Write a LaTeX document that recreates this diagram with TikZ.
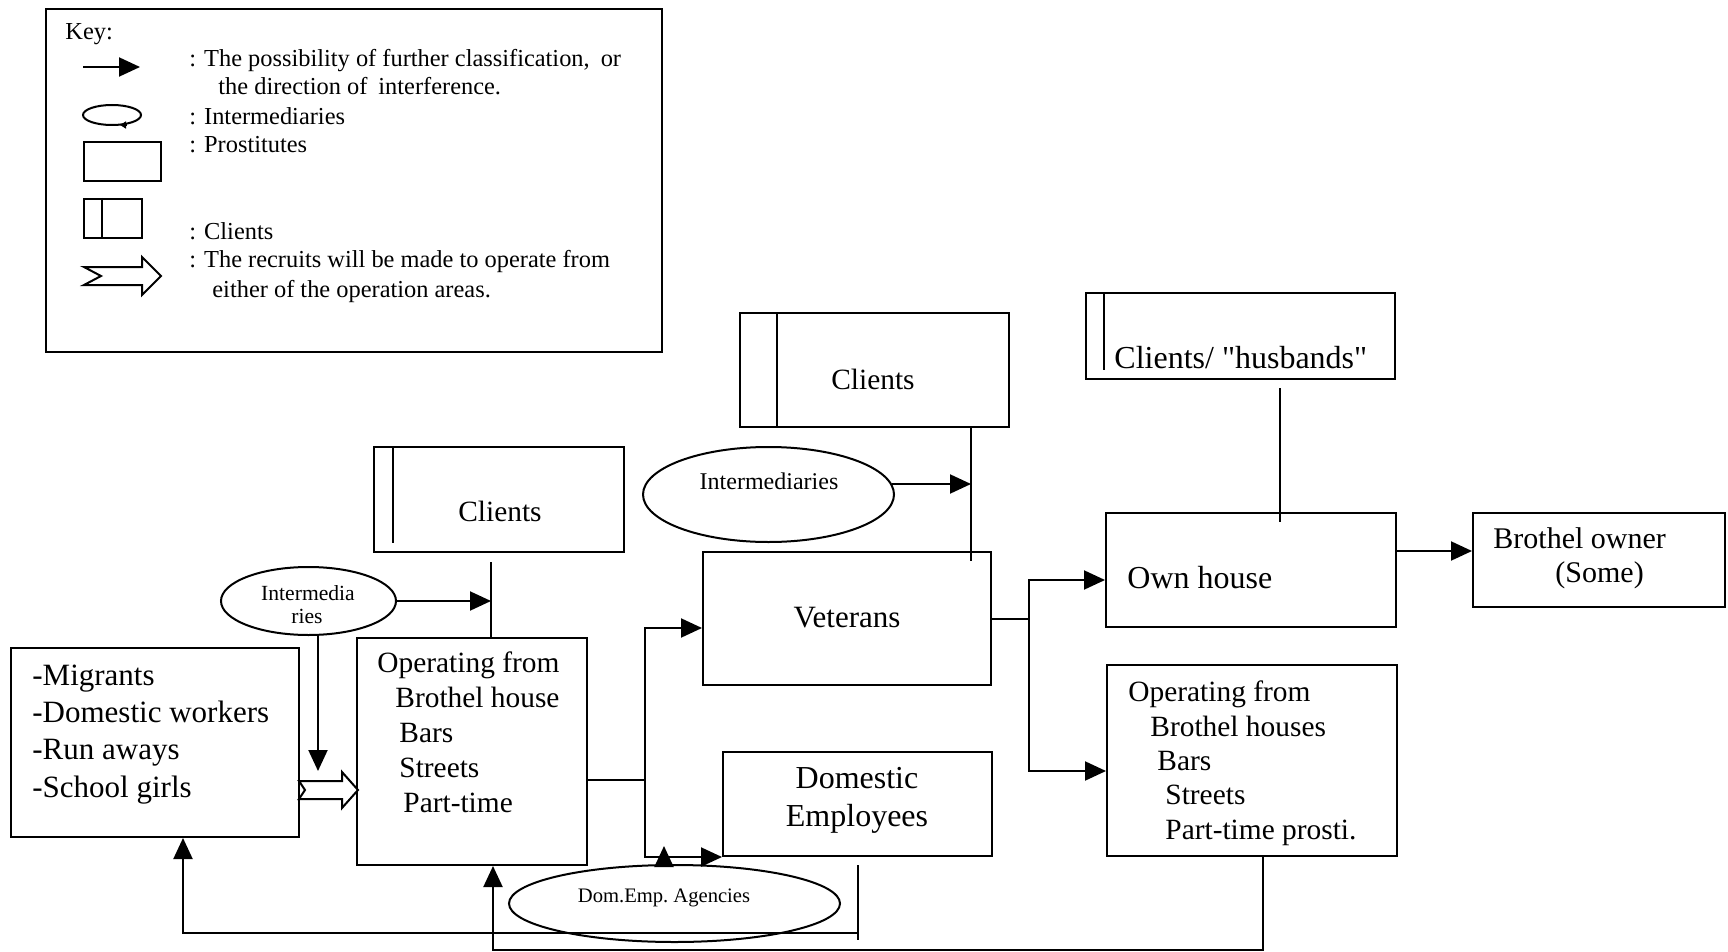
\documentclass[tikz,border=0pt]{standalone}
\usepackage{fontspec}
\setmainfont{Liberation Serif}
\newfontfamily\nomapfont{Liberation Serif}[Ligatures=TeXOff]
\usetikzlibrary{arrows.meta,shapes.geometric}
\frenchspacing
\begin{document}
\begin{tikzpicture}[x=0.5pt,y=-0.5pt,
  ln/.style={line width=1pt},
  arr/.style={line width=1pt,-{Triangle[length=10.5pt,width=9.5pt]}},
  box/.style={draw,line width=1pt,inner sep=0pt,rectangle},
  ell/.style={draw,line width=1pt,inner sep=0pt,ellipse},
  txt/.style={inner sep=0pt,anchor=base west},
  ctxt/.style={inner sep=0pt,anchor=base},
  keyf/.style={font=\fontsize{12.2}{14}\selectfont},
  mainf/.style={font=\fontsize{14.7}{17}\selectfont},
  bigf/.style={font=\fontsize{16}{18}\selectfont},
  midf/.style={font=\fontsize{15.5}{18}\selectfont},
  smallf/.style={font=\fontsize{10.8}{12}\selectfont},
  ellf/.style={font=\fontsize{12}{14}\selectfont},
  agf/.style={font=\fontsize{10.3}{12}\selectfont}]
\fill[white] (0,0) rectangle (1728,952);
\useasboundingbox (0,0) rectangle (1728,952);

% ---------------- key ----------------
\node[box,minimum width=308pt,minimum height=171.5pt] (key) at (354,180.5) {};
\node[txt,keyf] (kt0) at (65,40) {Key:};
\coordinate (ka1) at (83,67);
\coordinate (ka2) at (140,67);
\draw[arr] (ka1) -- (ka2);
\node[txt,keyf] (kt1) at (189,67) {:\hspace{4pt}The possibility of further classification,\hspace{0.2em} or};
\node[txt,keyf] (kt2) at (218,95) {the direction of\hspace{0.2em} interference.};
\node[ell,minimum width=29pt,minimum height=10pt] (kell) at (112,115) {};
\coordinate (kea) at (127,125);
\coordinate (keb) at (120,125);
\draw[line width=0.8pt,-{Triangle[length=3pt,width=3.5pt]}] (kea) -- (keb);
\node[txt,keyf] (kt3) at (189,125) {:\hspace{4pt}Intermediaries};
\node[box,minimum width=38.5pt,minimum height=19.5pt] (krect) at (122.5,161.5) {};
\node[txt,keyf] (kt4) at (189,153) {:\hspace{4pt}Prostitutes};
\node[box,minimum width=29pt,minimum height=19.5pt] (kcl) at (113,218.5) {};
\draw[ln] ([xshift=9.5pt]kcl.north west) -- ([xshift=9.5pt]kcl.south west);
\node[txt,keyf] (kt5) at (189,240) {:\hspace{4pt}Clients};
\draw[ln,fill=white] (84,267) -- (142,267) -- (142,257) -- (161,276) -- (142,295) -- (142,285) -- (84,285) -- (101,276) -- cycle;
\node[txt,keyf] (kt6) at (189,268) {:\hspace{4pt}The recruits will be made to operate from};
\node[txt,keyf] (kt7) at (212,297) {either of the operation areas.};

% ---------------- boxes ----------------
\node[box,minimum width=144pt,minimum height=94.5pt] (rec) at (155,742.5) {};
\node[box,minimum width=115pt,minimum height=113.5pt] (op1) at (472,751.5) {};
\node[box,minimum width=125pt,minimum height=52.5pt] (cl1) at (499,499.5) {};
\draw[ln] ([xshift=10pt]cl1.north west) -- ([xshift=10pt,yshift=5pt]cl1.south west);
\node[box,minimum width=134.5pt,minimum height=57pt] (cl2) at (874.5,370) {};
\draw[ln] ([xshift=19pt]cl2.north west) -- ([xshift=19pt]cl2.south west);
\node[box,minimum width=144pt,minimum height=66.5pt] (vet) at (847,618.5) {};
\node[box,minimum width=134.5pt,minimum height=52pt] (dom) at (857.5,804) {};
\node[box,minimum width=154.5pt,minimum height=43pt] (clh) at (1240.5,336) {};
\draw[ln] ([xshift=9.5pt]clh.north west) -- ([xshift=9.5pt,yshift=5pt]clh.south west);
\node[box,minimum width=145pt,minimum height=57pt] (own) at (1251,570) {};
\node[box,minimum width=126pt,minimum height=47pt] (bro) at (1599,560) {};
\node[box,minimum width=145pt,minimum height=95.5pt] (op2) at (1252,760.5) {};

% ---------------- ellipses ----------------
\node[ell,minimum width=87.5pt,minimum height=34pt] (e1) at (308.5,601) {};
\node[ell,minimum width=125.5pt,minimum height=47.5pt] (e2) at (768.5,494.5) {};
\node[ell,minimum width=165.5pt,minimum height=38.5pt,fill=white] (e3) at (674.5,903.5) {};

% ---------------- texts ----------------
\node[txt,midf] (r1) at (32,685) {-Migrants};
\node[txt,midf] (r2) at (32,722) {-Domestic workers};
\node[txt,midf] (r3) at (32,759) {-Run aways};
\node[txt,midf] (r4) at (32,797) {-School girls};

\node[txt,mainf] (o1) at (377,672) {Operating from};
\node[txt,mainf] (o2) at (395,707) {Brothel house};
\node[txt,mainf] (o3) at (399,742) {Bars};
\node[txt,mainf] (o4) at (399,777) {Streets};
\node[txt,mainf] (o5) at (403,812) {Part-time};

\node[ctxt,mainf] (c1t) at (500,521) {Clients};
\node[ctxt,mainf] (c2t) at (873,389) {Clients};
\node[ctxt,smallf] (e1a) at (308,600) {Intermedia};
\node[ctxt,smallf] (e1b) at (307,623) {ries};
\node[ctxt,ellf] (e2t) at (769,489) {Intermediaries};
\node[ctxt,midf] (vt) at (847,627) {Veterans};
\node[ctxt,bigf] (d1) at (857,788) {Domestic};
\node[ctxt,bigf] (d2) at (857,826) {Employees};
\node[ctxt,agf] (e3t) at (664,902) {Dom.Emp. Agencies};
\node[txt,font=\nomapfont\fontsize{16}{18}\selectfont] (cht) at (1114,368) {Clients/ "husbands"};
\node[txt,bigf] (owt) at (1127,588) {Own house};
\node[txt,font=\fontsize{15}{18}\selectfont] (bt1) at (1493,548) {Brothel owner};
\node[txt,font=\fontsize{15}{18}\selectfont] (bt2) at (1555,582) {(Some)};

\node[txt,mainf] (p1) at (1128,701) {Operating from};
\node[txt,mainf] (p2) at (1150,736) {Brothel houses};
\node[txt,mainf] (p3) at (1157,770) {Bars};
\node[txt,mainf] (p4) at (1165,804) {Streets};
\node[txt,mainf] (p5) at (1165,839) {Part-time prosti.};

% ---------------- connectors ----------------
% recruits -> operating (fat arrow)
\draw[ln,fill=white] (299,781) -- (342,781) -- (342,772) -- (358,790) -- (342,808) -- (342,799) -- (299,799) -- (305,790) -- cycle;
% intermediaries (small)
\coordinate (v1t) at (491,562);
\draw[ln] (v1t) -- (op1.north -| v1t);
\draw[arr] (e1.east) -- (e1.east -| v1t);
\draw[arr] ([xshift=4.75pt]e1.south) -- ++(0,135);
% operating -> veterans / domestic
\coordinate (j1) at (645,780);
\draw[ln] (op1.east |- j1) -- (j1);
\draw[arr] (j1) |- (vet.west |- 0,628);
\draw[arr] (j1) |- (dom.south west);
% agencies -> domestic line
\draw[arr] ([xshift=-5.25pt]e3.north) -- ++(0,-18);
% domestic loop back to recruits
\coordinate (l1a) at (858,865);
\coordinate (l1b) at (858,940);
\draw[ln] (l1a) -- (l1b);
\draw[arr] (858,933) -| (rec.south -| 183,0);
% operating2 loop back to operating1
\draw[arr] (op2.south -| 1263,0) -- (1263,950) -| (op1.south -| 493,0);
% intermediaries (big) -> clients line
\coordinate (v2t) at (971,561);
\draw[ln] (cl2.south -| v2t) -- (v2t);
\draw[arr] ([yshift=5.25pt,xshift=-1.5pt]e2.east) -- (971,484);
% veterans -> own house / operating2
\coordinate (j2) at (1029,618.5);
\draw[ln] (vet.east) -- (j2);
\draw[arr] (j2) |- (own.west |- 0,580);
\draw[arr] (j2) |- (op2.west |- 0,771);
% clients/husbands -- own house
\coordinate (h1) at (1280,388);
\coordinate (h2) at (1280,522);
\draw[ln] (h1) -- (h2);
% own house -> brothel owner
\draw[arr] (own.east |- 0,551) -- (bro.west |- 0,551);
\end{tikzpicture}
\end{document}
